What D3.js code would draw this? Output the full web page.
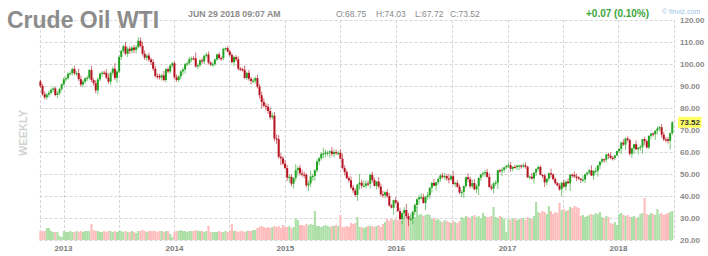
<!DOCTYPE html>
<html><head><meta charset="utf-8">
<script src="https://cdn.jsdelivr.net/npm/d3@7"></script>
<style>
html,body{margin:0;padding:0;background:#fff;}
svg{display:block;font-family:Arial,"Liberation Sans",sans-serif;}
</style></head>
<body><svg id="c" width="708" height="256"></svg>
<script>
// Weekly WTI candles. Each row: [close, upper wick, lower wick, volume (K)]
const firstOpen = 92.1;
const wti2012 = [[90.05,0.8,0.9,360],[86.28,0.9,0.7,360],[84.86,1.3,0.9,360],[86.07,0.7,1.1,480],[86.92,0.9,1.2,480],[88.28,0.6,0.8,360],[88.91,0.9,1.0,320],[85.93,0.7,0.6,320],[86.73,1.0,1.4,320],[88.66,0.6,0.9,160],[90.80,0.5,1.0,120]];
const wti2013 = [[93.09,0.9,0.8,360],[93.56,0.8,1.1,320],[95.56,0.7,0.9,320],[95.88,0.8,0.9,360],[97.77,0.5,1.0,320],[95.72,1.4,0.7,320],[95.86,0.9,1.1,360],[93.13,2.0,0.9,320],[90.68,1.6,1.0,360],[91.95,0.7,1.3,320],[93.45,0.6,0.8,360],[93.71,1.0,1.2,360],[97.23,0.5,0.7,360],[92.70,1.8,0.9,640],[91.29,1.0,1.1,400],[88.01,1.4,1.3,360],[93.00,0.9,2.0,360],[95.61,0.6,0.8,320],[96.04,0.8,1.5,320],[96.02,0.9,0.9,360],[93.84,1.6,0.7,320],[91.97,1.8,0.9,360],[96.03,0.5,1.6,360],[97.85,0.9,1.2,320],[93.69,2.5,1.1,360],[96.56,0.6,2.3,320],[103.22,0.8,0.9,360],[105.95,0.6,1.3,360],[108.05,0.7,1.0,320],[104.70,2.0,0.8,360],[106.94,0.8,1.5,320],[105.97,1.1,1.4,320],[107.46,0.6,1.1,360],[106.42,1.2,1.5,320],[107.65,0.9,1.6,280],[110.53,1.7,0.6,360],[108.21,1.6,0.7,360],[104.67,2.0,0.8,400],[102.87,1.5,1.0,360],[103.84,0.6,1.4,320],[102.02,1.3,1.0,360],[100.81,1.0,1.3,360],[97.85,1.4,1.0,360],[94.61,1.2,0.8,360],[94.60,1.1,1.5,320],[93.84,1.0,0.9,360],[94.84,0.8,1.4,360],[92.72,2.0,0.6,320],[97.65,0.5,1.2,360],[96.60,0.8,0.8,360],[99.32,0.5,1.0,240],[100.32,0.7,0.9,120]];
const wti2014 = [[93.96,0.8,0.9,320],[92.72,1.3,0.8,360],[94.37,0.5,1.0,360],[96.64,0.6,1.4,400],[97.49,0.9,1.5,360],[99.88,0.6,1.8,360],[100.30,0.8,0.9,320],[102.20,1.1,0.7,360],[102.59,0.8,1.3,360],[102.58,1.0,0.9,360],[98.89,2.6,0.6,400],[99.46,0.8,1.3,360],[101.67,0.6,0.9,360],[101.14,1.1,1.0,360],[103.74,0.5,1.2,320],[104.30,0.9,0.8,360],[100.60,1.4,0.8,560],[99.76,0.8,0.7,320],[99.99,0.9,1.1,320],[102.02,0.6,0.9,320],[104.35,0.4,0.7,320],[102.71,1.0,0.8,360],[102.66,0.7,1.2,320],[106.91,0.5,1.0,320],[107.26,0.4,0.8,360],[105.74,0.9,0.6,320],[104.06,0.8,0.6,360],[100.83,1.0,0.5,640],[103.13,0.6,1.8,360],[102.09,0.9,0.9,360],[97.88,1.4,0.8,320],[97.65,0.8,0.9,360],[97.35,0.7,0.8,360],[93.65,1.9,0.6,320],[95.96,0.5,1.0,360],[93.29,1.4,0.9,360],[92.27,0.9,1.5,360],[92.41,1.0,1.1,400],[93.54,0.7,1.2,400],[89.74,1.5,0.9,480],[85.82,1.1,1.6,520],[82.75,1.6,2.9,560],[81.01,1.7,0.7,520],[80.54,1.2,1.7,480],[78.65,1.4,1.4,520],[75.82,1.6,1.1,480],[76.51,1.3,1.0,520],[66.15,1.6,1.3,560],[65.84,1.9,2.1,520],[57.81,1.8,0.8,560],[57.13,1.7,3.1,480],[54.73,1.1,0.8,600]];
const wti2015 = [[52.69,1.6,0.6,520],[48.36,1.4,1.6,520],[48.69,1.1,2.3,560],[45.59,1.3,1.2,480],[48.24,0.2,2.2,520],[51.69,2.8,1.5,880],[52.78,0.8,2.4,800],[50.34,1.3,1.1,600],[49.76,1.7,1.0,600],[49.61,1.3,1.5,560],[44.84,0.8,1.0,640],[45.72,1.2,2.6,600],[48.87,2.7,1.7,640],[49.14,0.9,2.0,600],[51.64,0.6,2.2,1160],[55.74,1.0,0.9,560],[57.15,0.7,1.7,560],[59.15,0.7,1.0,520],[59.39,2.5,2.0,560],[59.69,1.3,1.9,600],[59.72,0.8,1.6,560],[60.30,0.5,2.4,520],[59.13,2.0,1.1,560],[59.96,1.2,1.6,560],[59.61,1.1,1.0,600],[59.63,0.9,1.2,560],[56.93,1.7,0.2,1000],[52.74,2.3,0.6,520],[50.89,1.2,1.5,520],[48.14,1.0,0.5,560],[47.12,0.9,0.9,520],[43.87,1.8,0.7,680],[42.50,1.2,1.2,640],[40.45,1.0,0.8,680],[45.22,0.1,2.7,920],[46.05,3.9,2.3,520],[44.63,1.4,1.2,520],[44.68,2.5,0.3,480],[45.70,1.3,1.1,520],[45.54,1.3,1.0,560],[49.63,0.6,2.1,560],[47.26,1.4,1.2,560],[44.60,1.1,0.3,520],[46.59,0.1,1.6,560],[44.29,2.0,0.9,600],[40.74,1.4,0.7,520],[40.39,1.6,1.2,640],[41.71,0.5,1.4,720],[39.97,1.3,0.9,840],[35.62,1.3,0.4,760],[34.73,0.8,0.4,840],[38.10,0.2,3.2,800]];
const wti2016 = [[37.04,1.3,0.9,840],[33.16,0.8,0.3,800],[29.42,1.5,0.6,760],[32.19,0.5,2.2,760],[33.62,1.3,2.6,880],[30.89,2.8,0.9,1040],[29.44,1.5,3.2,880],[29.64,2.3,0.6,800],[32.78,0.6,2.4,840],[35.92,0.8,1.5,920],[38.50,0.5,1.3,1320],[39.44,1.0,2.3,1000],[39.46,1.8,0.9,1040],[36.79,1.6,0.2,960],[39.72,0.0,3.2,1000],[40.36,1.4,1.4,1040],[43.73,0.4,1.6,1000],[45.92,0.5,2.2,840],[44.66,1.8,0.2,880],[46.21,0.1,2.2,800],[47.75,0.8,1.1,840],[49.33,0.7,1.4,760],[48.62,1.1,0.6,720],[49.07,1.5,1.3,800],[47.98,0.9,1.1,760],[47.64,2.1,1.9,720],[48.99,0.6,0.8,680],[45.41,2.2,0.3,760],[45.95,0.5,1.3,720],[44.19,1.2,0.5,680],[41.60,1.0,0.7,760],[41.80,0.9,2.1,920],[44.49,0.3,2.7,880],[48.52,0.3,0.8,960],[47.64,1.8,1.3,920],[44.44,1.2,0.9,880],[45.88,1.6,0.9,960],[43.03,1.8,0.4,1000],[44.48,0.9,1.7,920],[48.24,0.1,4.0,960],[49.81,0.2,1.4,880],[50.35,0.8,1.1,1080],[50.85,1.0,1.6,960],[48.70,1.5,0.5,920],[44.07,1.5,0.2,920],[43.41,1.1,0.8,960],[45.69,0.7,2.3,1320],[46.06,1.1,1.1,920],[51.68,0.4,2.8,880],[51.50,0.7,1.0,960],[51.90,1.0,2.4,920],[53.02,0.2,1.3,840],[53.72,0.5,0.7,320]];
const wti2017 = [[53.99,1.1,1.0,840],[52.37,1.4,1.3,800],[53.22,0.3,1.2,880],[53.17,0.9,0.6,840],[53.83,0.4,1.4,800],[53.86,0.3,2.1,840],[53.40,0.4,1.0,840],[53.99,0.9,0.7,880],[53.33,1.4,0.9,800],[48.49,0.3,0.3,920],[48.78,0.5,1.0,880],[47.97,1.6,0.6,840],[50.60,0.3,2.3,960],[52.24,0.4,1.5,1520],[53.18,0.6,0.8,1120],[49.62,0.8,0.1,1080],[49.33,0.3,1.2,1160],[46.22,0.7,2.2,1120],[47.84,0.2,1.3,1040],[50.33,0.5,1.1,1360],[49.80,2.1,1.4,1160],[47.66,0.5,0.6,1040],[45.83,0.8,0.6,1120],[44.74,0.5,0.3,1080],[43.01,1.0,0.6,1480],[46.04,0.3,3.1,1200],[44.23,1.5,0.4,1240],[46.54,0.5,1.8,1160],[45.77,1.4,0.2,1200],[49.71,0.3,3.5,1320],[49.58,0.4,1.3,1280],[48.82,1.5,0.5,1360],[48.51,1.3,1.7,1320],[47.87,0.5,0.6,1280],[47.29,0.3,1.4,960],[47.48,2.0,1.0,1000],[49.89,0.2,1.6,920],[50.66,0.3,0.8,960],[51.67,0.6,0.8,1000],[49.29,2.3,0.2,1040],[51.45,0.2,1.9,1000],[51.47,1.5,1.1,1080],[53.90,0.2,2.7,1040],[55.64,0.1,1.7,1120],[56.74,0.5,0.9,920],[56.55,0.3,1.4,880],[58.95,0.1,1.4,960],[58.36,0.7,1.6,920],[57.36,1.4,0.7,680],[57.30,0.8,1.2,640],[58.47,0.2,1.0,720],[60.42,0.1,0.3,600]];
const wti2018 = [[61.44,0.3,0.9,1040],[64.30,0.5,2.3,1080],[63.37,1.5,0.6,1000],[66.14,0.5,2.5,960],[65.45,0.9,0.8,1000],[59.20,0.6,0.9,920],[61.68,0.2,2.0,920],[63.55,0.2,2.6,960],[61.25,1.7,0.4,880],[62.04,0.0,2.4,920],[62.34,0.8,1.5,1040],[65.88,0.0,3.2,1080],[64.94,0.9,1.7,1680],[62.06,0.6,0.4,1040],[67.39,0.1,0.7,1000],[68.38,0.3,1.6,1080],[68.10,0.6,1.1,1040],[69.72,0.0,2.6,1000],[70.70,0.9,1.8,1240],[71.28,0.6,1.1,1040],[67.88,1.5,1.3,1080],[65.81,1.3,0.9,1000],[65.74,0.8,1.3,1040],[65.06,1.1,1.2,1080],[68.58,0.4,4.0,1120],[73.52,0.5,0.9,1160]];

const priceTicks = [20,30,40,50,60,70,80,90,100,110,120];
const yearLabels = ["2013","2014","2015","2016","2017","2018"];
const header = {title:"Crude Oil WTI", date:"JUN 29 2018 09:07 AM", o:"O:68.75", h:"H:74.03", l:"L:67.72", c:"C:73.52", chg:"+0.07 (0.10%)", last:73.52, period:"WEEKLY"};

const svg = d3.select("#c");
const W = 708, H = 256;
const L = 39.5, R = 673.5, T = 20, B = 240;
svg.append("rect").attr("width",W).attr("height",H).attr("fill","#fff");

const rows = [].concat(wti2012,wti2013,wti2014,wti2015,wti2016,wti2017,wti2018);
const fridays = d3.utcFriday.range(new Date(Date.UTC(2012,9,19)), new Date(Date.UTC(2018,5,30)));
const data = rows.map((r,i)=>{
  const open = i ? rows[i-1][0] : firstOpen;
  const close = r[0];
  return {date:d3.utcDay.offset(fridays[i],-2), open, close,
    high:Math.max(open,close)+r[1], low:Math.min(open,close)-r[2], vol:r[3]};
});

const x = d3.scaleUtc().domain([new Date(Date.UTC(2012,9,14)), new Date(Date.UTC(2018,6,1))]).range([L,R]);
const y = d3.scaleLinear().domain([20,120]).range([B,T]);
const v = d3.scaleLinear().domain([0,1800]).range([0,45]);

const grid = svg.append("g").attr("stroke","#d6d6d6").attr("stroke-dasharray","3,2").attr("stroke-width",1);
priceTicks.forEach(p=>{
  grid.append("line").attr("x1",L).attr("x2",R).attr("y1",Math.round(y(p))+0.5).attr("y2",Math.round(y(p))+0.5);
});
const vticks = d3.utcMonth.every(6).range(new Date(Date.UTC(2013,0,1)), new Date(Date.UTC(2018,6,2)));
[new Date(Date.UTC(2012,9,14))].concat(vticks).forEach(d=>{
  const xx = Math.round(x(d))+0.5;
  grid.append("line").attr("x1",xx).attr("x2",xx).attr("y1",T).attr("y2",B);
});

// volume
svg.append("g").selectAll("rect").data(data).join("rect")
  .attr("x",d=>x(d.date)-1.05).attr("width",2.1)
  .attr("y",d=>B - v(d.vol)).attr("height",d=>v(d.vol))
  .attr("fill",d=>d.close>=d.open?"#abdfa5":"#ffbcbc");

// wicks
svg.append("g").selectAll("line").data(data).join("line")
  .attr("x1",d=>x(d.date)).attr("x2",d=>x(d.date))
  .attr("y1",d=>y(d.high)).attr("y2",d=>y(d.low))
  .attr("stroke",d=>d.close>=d.open?"#27a327":"#b5121f")
  .attr("stroke-opacity",0.6).attr("stroke-width",1);
// bodies
svg.append("g").selectAll("rect").data(data).join("rect")
  .attr("x",d=>x(d.date)-1).attr("width",2)
  .attr("y",d=>y(Math.max(d.open,d.close)))
  .attr("height",d=>Math.max(1.2,Math.abs(y(d.open)-y(d.close))))
  .attr("fill",d=>d.close>=d.open?"#22a322":"#b5121f");

// y labels
const yl = svg.append("g").attr("font-size",8).attr("font-weight","bold").attr("fill","#8a8a8a");
priceTicks.forEach(p=>{
  yl.append("text").attr("x",680).attr("y",y(p)+3).text(d3.format(".2f")(p));
});
// last price marker
svg.append("rect").attr("x",678).attr("y",y(header.last)-5.5).attr("width",23.5).attr("height",11).attr("fill","#ffff66");
svg.append("text").attr("x",680).attr("y",y(header.last)+3).attr("font-size",8).attr("font-weight","bold").attr("fill","#333").text(d3.format(".2f")(header.last));

// x labels
const xl = svg.append("g").attr("font-size",8).attr("font-weight","bold").attr("fill","#7a7a7a").attr("text-anchor","middle");
yearLabels.forEach(s=>{
  xl.append("text").attr("x",x(new Date(Date.UTC(+s,0,1)))).attr("y",251).text(s);
});

// header
svg.append("text").attr("x",7).attr("y",28).attr("font-size",23).attr("font-weight","bold").attr("fill","#8c8c8c").text(header.title);
svg.append("text").attr("x",188).attr("y",17).attr("font-size",8.8).attr("font-weight","bold").attr("fill","#8c8c8c").text(header.date);
const hd = svg.append("g").attr("font-size",8.5).attr("fill","#8a8a8a");
hd.append("text").attr("x",336).attr("y",17).text(header.o);
hd.append("text").attr("x",376).attr("y",17).text(header.h);
hd.append("text").attr("x",415).attr("y",17).text(header.l);
hd.append("text").attr("x",450).attr("y",17).text(header.c);
svg.append("text").attr("x",586).attr("y",17).attr("font-size",10).attr("font-weight","bold").attr("fill","#3aa63a").text(header.chg);
svg.append("text").attr("x",662).attr("y",14).attr("font-size",7).attr("fill","#9dbfe8").text("© finviz.com");
svg.append("text").attr("transform","translate(27,133) rotate(-90)").attr("text-anchor","middle").attr("font-size",11).attr("font-weight","bold").attr("fill","#d2d2d2").text(header.period);
</script></body></html>
